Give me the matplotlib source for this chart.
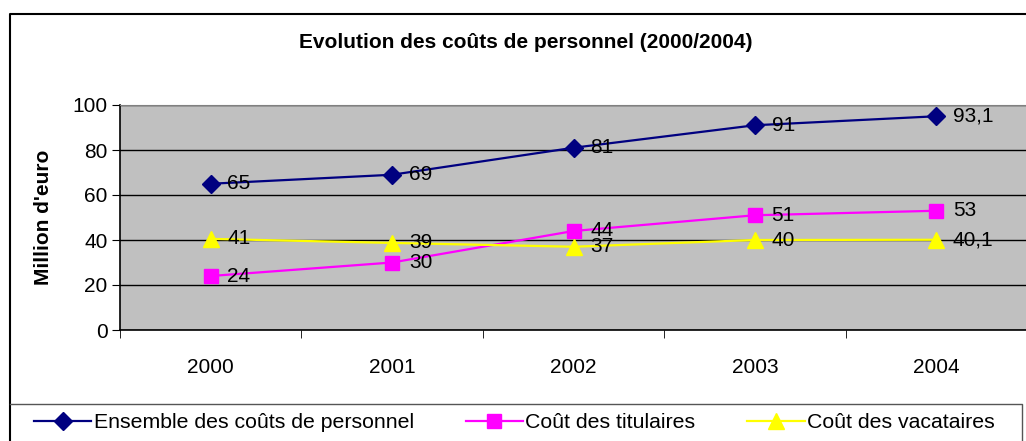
import matplotlib.pyplot as plt
from matplotlib.lines import Line2D

plt.rcParams['font.family'] = ['Liberation Sans', 'DejaVu Sans']

years = ['2000', '2001', '2002', '2003', '2004']
ensemble = [65, 69, 81, 91, 95]
ensemble_lbl = ['65', '69', '81', '91', '93,1']
titulaires = [24, 30, 44, 51, 53]
titulaires_lbl = ['24', '30', '44', '51', '53']
vacataires = [40.5, 38.7, 37, 40, 40.1]
vacataires_lbl = ['41', '39', '37', '40', '40,1']

W, H = 1026, 441
fig = plt.figure(figsize=(W / 100, H / 100), dpi=100)

# plot area in pixel coords
l, r, t, b = 120, 1027, 105, 330
ax = fig.add_axes([l / W, 1 - b / H, (r - l) / W, (b - t) / H])
ax.set_facecolor('#C0C0C0')

x = list(range(len(years)))
series = [
    (ensemble, ensemble_lbl, '#000080', 'D', 9, 'Ensemble des coûts de personnel'),
    (titulaires, titulaires_lbl, '#FF00FF', 's', 10, 'Coût des titulaires'),
    (vacataires, vacataires_lbl, '#FFFF00', '^', 11, 'Coût des vacataires'),
]
handles = []
for vals, lbls, col, mk, ms, name in series:
    h, = ax.plot(x, vals, color=col, lw=1.6, marker=mk, markersize=ms,
                 markerfacecolor=col, markeredgecolor=col, label=name, zorder=3)
    handles.append(h)
    for xi, v, s in zip(x, vals, lbls):
        ax.annotate(s, (xi, v), xytext=(12, 0), textcoords='offset points',
                    ha='left', va='center', fontsize=15, zorder=4)

ax.set_xlim(-0.5, 4.5)
ax.set_ylim(0, 100)
ax.set_yticks(range(0, 101, 20))
ax.yaxis.grid(True, color='#000000', lw=1)
ax.set_axisbelow(True)
ax.tick_params(axis='y', labelsize=15, length=6, pad=3, direction='out')

ax.set_xticks(x)
ax.set_xticklabels(years)
ax.set_xticks([i - 0.5 for i in range(len(years) + 1)], minor=True)
ax.tick_params(axis='x', which='major', length=0, pad=20, labelsize=15)
ax.tick_params(axis='x', which='minor', length=6, direction='out')

for s in ['top', 'right']:
    ax.spines[s].set_color('#808080')
for s in ['left', 'bottom']:
    ax.spines[s].set_color('#000000')
    ax.spines[s].set_linewidth(1.2)

ax.set_ylabel("Million d'euro", fontsize=15, fontweight='bold', labelpad=14)

fig.text(526 / W, 1 - 43 / H, 'Evolution des coûts de personnel (2000/2004)',
         ha='center', va='center', fontsize=15, fontweight='bold')

# outer chart frame
def px_line(xs, ys, **kw):
    fig.add_artist(Line2D([v / W for v in xs], [1 - v / H for v in ys],
                          transform=fig.transFigure, **kw))

px_line([10, 10, W + 5], [H + 5, 14, 14], color='black', lw=1.5)
# legend box
px_line([10, 1022, 1022], [404, 404, H + 5], color='#555555', lw=1)

fig.legend(handles=handles, loc='center left',
           bbox_to_anchor=(34 / W, 1 - 423 / H), ncol=3, frameon=False,
           fontsize=15.3, handlelength=2.7, handletextpad=0.1,
           columnspacing=2.45, borderpad=0, borderaxespad=0)

fig.savefig('out.png', dpi=100)
